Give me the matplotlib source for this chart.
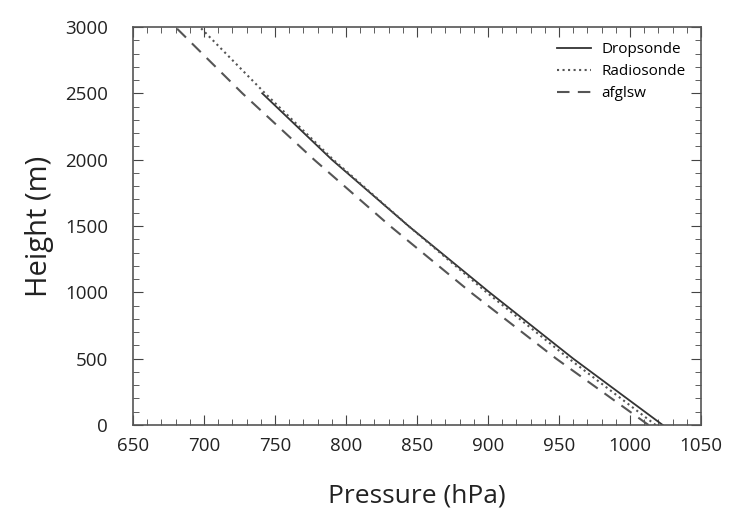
import numpy as np
import matplotlib.pyplot as plt
from matplotlib.ticker import MultipleLocator

# heights (m) and pressures (hPa)
drop_h = [0, 500, 1000, 1500, 2000, 2500]
drop_p = [1023, 960, 901, 844, 790, 741]

radio_h = [0, 500, 1000, 1500, 2000, 2500, 3000]
radio_p = [1018, 957, 899, 844, 791, 743, 697]

afgl_h = [0, 500, 1000, 1500, 2000, 2500, 3000]
afgl_p = [1013, 948, 887.8, 831, 777.5, 727, 679.8]

plt.rcParams['font.family'] = ['Open Sans', 'DejaVu Sans']

fig = plt.figure(figsize=(7.29, 5.15), dpi=100)
ax = fig.add_axes([0.1825, 0.1748, 0.7791, 0.7728])

ax.plot(drop_p, drop_h, '-', color='#333333', lw=1.3, label='Dropsonde')
ax.plot(radio_p, radio_h, ':', color='#555555', lw=1.5, label='Radiosonde')
ax.plot(afgl_p, afgl_h, '--', color='#555555', lw=1.5, dashes=(6, 4), label='afglsw')

ax.set_xlim(650, 1050)
ax.set_ylim(0, 3000)
ax.xaxis.set_major_locator(MultipleLocator(50))
ax.xaxis.set_minor_locator(MultipleLocator(10))
ax.yaxis.set_major_locator(MultipleLocator(500))
ax.yaxis.set_minor_locator(MultipleLocator(100))
ax.tick_params(which='both', direction='in', top=True, right=True, color='#444444')
ax.tick_params(which='major', length=7, labelsize=13.5, labelcolor='#222222')
ax.tick_params(axis='x', which='major', pad=9)
ax.tick_params(axis='y', which='major', pad=18)
ax.tick_params(which='minor', length=4)
for s in ax.spines.values():
    s.set_color('#555555')
    s.set_linewidth(1.2)

ax.set_xlabel('Pressure (hPa)', fontsize=19, labelpad=20, color='#222222')
ax.set_ylabel('Height (m)', fontsize=21, labelpad=8, color='#222222')

ax.legend(loc='upper right', frameon=False, fontsize=11, handlelength=2.2,
          labelspacing=0.45, borderaxespad=0.6, handletextpad=0.7)

fig.savefig('out.png', dpi=100)
